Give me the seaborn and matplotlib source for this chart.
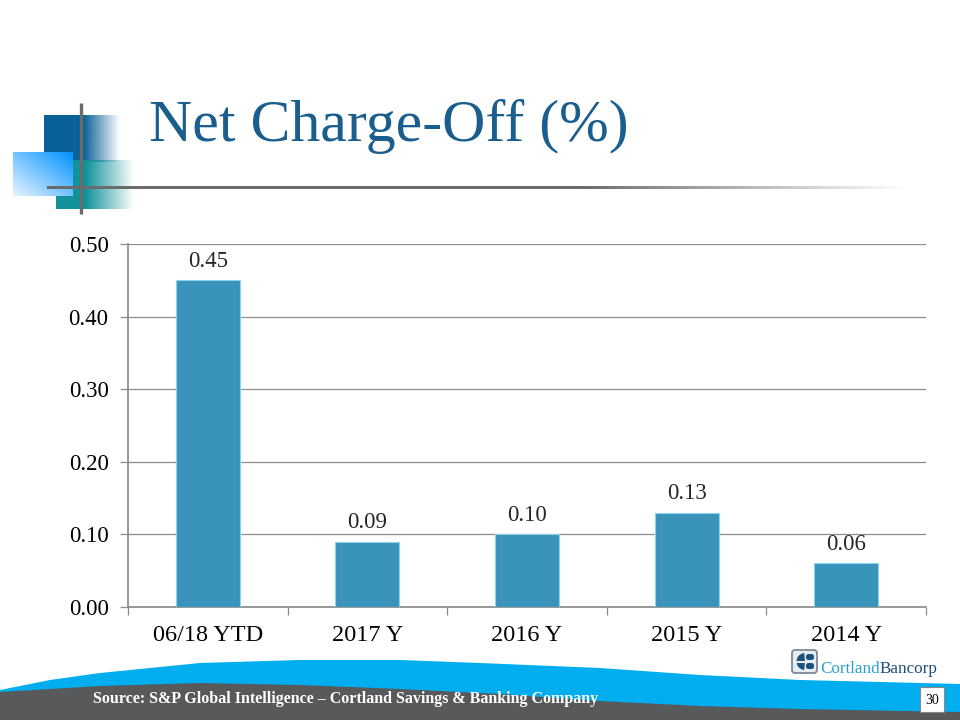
import numpy as np
import pandas as pd
import matplotlib
matplotlib.use("Agg")
import matplotlib.pyplot as plt
import seaborn as sns
from matplotlib.patches import Polygon, Rectangle, FancyBboxPatch, Wedge

# chart data
categories = ['06/18 YTD', '2017 Y', '2016 Y', '2015 Y', '2014 Y']
net_charge_off = [0.45, 0.09, 0.10, 0.13, 0.06]
y_ticks = [0.0, 0.1, 0.2, 0.3, 0.4, 0.5]

df = pd.DataFrame({'period': categories, 'value': net_charge_off})

sns.set_theme(style='white')
plt.rcParams['font.family'] = ['Liberation Serif', 'DejaVu Serif']

fig = plt.figure(figsize=(9.6, 7.2), dpi=100)
fig.patch.set_facecolor('white')

# background / decoration layer in pixel coordinates
bg = fig.add_axes([0, 0, 1, 1], zorder=0)
bg.set_xlim(0, 960)
bg.set_ylim(720, 0)
bg.axis('off')


def fade_rect(x0, x1, y0, y1, color, fade_from, z):
    rgb = matplotlib.colors.to_rgb(color)
    xs = np.linspace(x0, x1, 200)
    alpha = np.clip((x1 - xs) / (x1 - fade_from), 0, 1)
    img = np.zeros((2, 200, 4))
    img[..., :3] = rgb
    img[..., 3] = alpha
    bg.imshow(img, extent=(x0, x1, y1, y0), aspect='auto', zorder=z,
              interpolation='bilinear')


fade_rect(44, 120, 115, 162, '#0A6198', 84, 1)
fade_rect(56, 134, 160, 209, '#12929A', 86, 1)

# light blue diagonal gradient square
n = 100
gx, gy = np.meshgrid(np.linspace(0, 1, n), np.linspace(0, 1, n))
t = np.clip((gx + (1 - gy)) / 2, 0, 1)
c_hi = np.array(matplotlib.colors.to_rgb('#0092FF'))
c_lo = np.array(matplotlib.colors.to_rgb('#E8F4FF'))
img = c_lo[None, None, :] * (1 - t[..., None]) + c_hi[None, None, :] * t[..., None]
bg.imshow(img, extent=(13, 73, 196, 152), aspect='auto', zorder=2,
          interpolation='bilinear')

# gray cross lines
bg.plot([81, 81], [103, 214], color='#6B6B6B', lw=2.4, zorder=3,
        solid_capstyle='butt')
xs = np.linspace(47, 910, 300)
alpha = np.clip((910 - xs) / 330, 0, 1)
img = np.zeros((2, 300, 4))
img[..., :3] = matplotlib.colors.to_rgb('#6B6B6B')
img[..., 3] = alpha
bg.imshow(img, extent=(47, 910, 189.5, 186.5), aspect='auto', zorder=3,
          interpolation='bilinear')

# title
bg.text(149, 141, 'Net Charge-Off (%)', fontsize=43, color='#1A5E8E',
        ha='left', va='baseline', zorder=4)

# bottom waves
wx = np.linspace(0, 960, 400)
blue_top = np.interp(wx, [0, 50, 100, 200, 300, 400, 480, 600, 700, 800, 960],
                     [690, 680, 673, 663, 660, 660, 663, 668, 675, 680, 684])
gray_top = np.interp(wx, [0, 50, 100, 200, 300, 400, 500, 600, 700, 800, 960],
                     [692, 689, 686, 683, 685, 689, 694, 701, 706, 709, 712])
bg.add_patch(Polygon(np.column_stack([np.r_[wx, 960, 0], np.r_[blue_top, 720, 720]]),
                     closed=True, facecolor='#00AEEF', edgecolor='none', zorder=1))
bg.add_patch(Polygon(np.column_stack([np.r_[wx, 960, 0], np.r_[gray_top, 720, 720]]),
                     closed=True, facecolor='#58595B', edgecolor='none', zorder=1))

bg.text(93, 699, 'Source: S&P Global Intelligence \u2013 Cortland Savings & Banking Company',
        fontsize=11.5, fontweight='bold', color='white', ha='left', va='center', zorder=4)

# page number box
bg.add_patch(Rectangle((920, 687), 24, 25, facecolor='white', edgecolor='#888888',
                       lw=0.8, zorder=4))
bg.text(932, 700, '30', fontsize=10, color='black', ha='center', va='center', zorder=5)

# logo
bg.add_patch(FancyBboxPatch((792, 650), 25, 23, boxstyle='round,pad=0,rounding_size=3',
                            facecolor='#E6ECF1', edgecolor='#7D8A96', lw=1.3, zorder=4))
bg.add_patch(Wedge((805, 661.5), 8.5, 95, 265, facecolor='#1C4F7A', edgecolor='none', zorder=5))
bg.add_patch(FancyBboxPatch((806, 654), 8, 6, boxstyle='round,pad=0,rounding_size=2.5',
                            facecolor='#1C4F7A', edgecolor='none', zorder=5))
bg.add_patch(FancyBboxPatch((806, 663), 8, 6, boxstyle='round,pad=0,rounding_size=2.5',
                            facecolor='#1C4F7A', edgecolor='none', zorder=5))
bg.plot([797, 814], [661.5, 661.5], color='#E6ECF1', lw=1.5, zorder=6)

logo_font = ['Liberation Serif', 'DejaVu Serif']
t1 = bg.text(820, 673, 'Cortland', fontsize=13, color='#2A9FD6', family=logo_font,
             ha='left', va='baseline', zorder=5)
t2 = bg.text(880, 673, 'Bancorp', fontsize=13, color='#1C4F7A', family=logo_font,
             ha='left', va='baseline', zorder=5)
fig.canvas.draw()
r = fig.canvas.get_renderer()
w1 = t1.get_window_extent(r).width
w2 = t2.get_window_extent(r).width
scale = min(1.0, 117 / (w1 + w2))
t1.set_fontsize(13 * scale)
t2.set_fontsize(13 * scale)
t2.set_x(820 + w1 * scale)

# chart axes
ax = fig.add_axes([128 / 960, 1 - 607 / 720, 798 / 960, 363 / 720], zorder=2)
ax.patch.set_alpha(0)
sns.barplot(data=df, x='period', y='value', color='#3A93BA', width=0.4,
            edgecolor='#8AD3EC', linewidth=0.8, saturation=1, ax=ax, zorder=3)
ax.set_xlim(-0.5, len(categories) - 0.5)
ax.set_ylim(0, 0.5)
ax.set_yticks(y_ticks)
ax.set_yticklabels([f'{v:.2f}' for v in y_ticks])
ax.set_xticks(np.arange(len(categories) + 1) - 0.5, minor=True)
ax.yaxis.grid(True, color='#8C8C8C', lw=0.9)
ax.set_axisbelow(True)
for s in ['top', 'right']:
    ax.spines[s].set_visible(False)
ax.spines['left'].set_color('#8C8C8C')
ax.spines['bottom'].set_color('#8C8C8C')
ax.tick_params(axis='y', labelsize=16.5, colors='#8C8C8C', labelcolor='black',
               length=6, width=0.9, direction='out', left=True, pad=8)
ax.tick_params(axis='x', labelsize=17.5, labelcolor='black', length=0, pad=13)
ax.tick_params(axis='x', which='minor', colors='#8C8C8C', length=6, width=0.9,
               direction='out', bottom=True)
ax.set_xlabel('')
ax.set_ylabel('')
for i, v in enumerate(net_charge_off):
    ax.text(i, v + 0.012, f'{v:.2f}', ha='center', va='bottom', fontsize=16.5, zorder=4)

fig.savefig('out.png', dpi=100)
